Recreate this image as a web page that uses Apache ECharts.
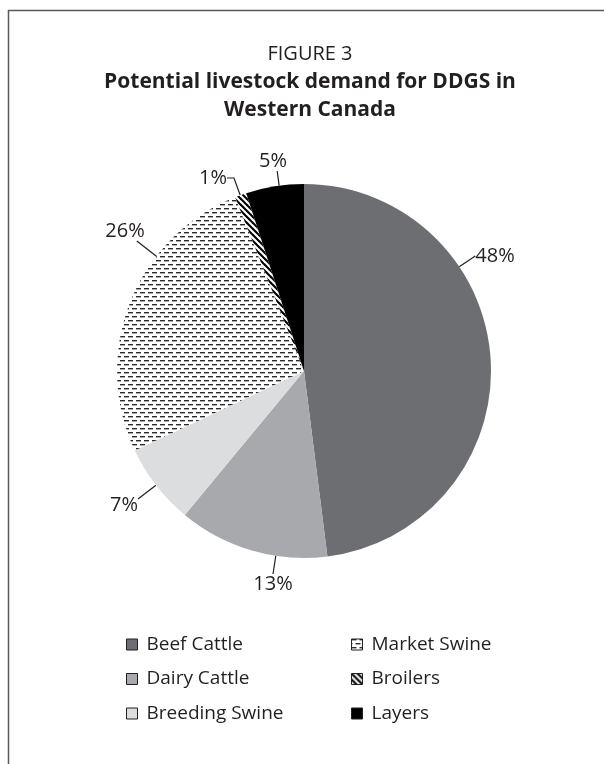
<!DOCTYPE html>
<html>
<head>
<meta charset="utf-8">
<script src="https://cdn.jsdelivr.net/npm/echarts@6/dist/echarts.min.js"></script>
<style>
html, body { margin: 0; padding: 0; background: #fff; }
#chart { width: 604px; height: 764px; }
</style>
</head>
<body>
<div id="chart"></div>
<script>
// data, in the order the slices run clockwise from 12 o'clock
const categories = ['Beef Cattle', 'Dairy Cattle', 'Breeding Swine', 'Market Swine', 'Broilers', 'Layers'];
const shares = [48, 13, 7, 26, 1, 5];
const legendLeft = ['Beef Cattle', 'Dairy Cattle', 'Breeding Swine'];
const legendRight = ['Market Swine', 'Broilers', 'Layers'];

const ink = '#231f20';
const font = '"Open Sans", "Noto Sans", sans-serif';
const pieCenter = [304, 371];
const pieRadius = 187;

// little tiles for the two hatched slices
function dashTile () {
  const c = document.createElement('canvas');
  c.width = 8; c.height = 8;
  const g = c.getContext('2d');
  g.fillStyle = '#fff';
  g.fillRect(0, 0, 8, 8);
  g.fillStyle = '#2b2b2b';
  g.fillRect(0, 0, 5, 1.4);
  g.fillRect(4, 4, 4, 1.4);
  g.fillRect(0, 4, 1, 1.4);
  return { image: c, repeat: 'repeat' };
}
function stripeTile () {
  const c = document.createElement('canvas');
  c.width = 6; c.height = 6;
  const g = c.getContext('2d');
  g.fillStyle = '#fff';
  g.fillRect(0, 0, 6, 6);
  g.strokeStyle = '#000';
  g.lineWidth = 2.1;
  [-6, 0, 6].forEach(o => {
    g.beginPath();
    g.moveTo(o - 1, -1);
    g.lineTo(o + 7, 7);
    g.stroke();
  });
  return { image: c, repeat: 'repeat' };
}

const fills = {
  'Beef Cattle': '#6d6e71',
  'Dairy Cattle': '#a7a9ac',
  'Breeding Swine': '#dcddde',
  'Market Swine': dashTile(),
  'Broilers': stripeTile(),
  'Layers': '#000'
};

// label placement as in the print: centre x, y, which side of the
// label box the leader leaves from (-1..1 of half width/height), elbow px
const labelSpots = {
  'Beef Cattle': [495, 256, -1, 0, 0],
  'Dairy Cattle': [273, 584, 0, -1, 0],
  'Breeding Swine': [124, 505, 1, -0.6, 0],
  'Market Swine': [125, 231, 0.6, 1, 0],
  'Broilers': [213, 178, 1, 0, 7],
  'Layers': [273, 161, 0.3, 1, 0]
};

function placeLabel (p) {
  const s = labelSpots[categories[p.dataIndex]];
  const w = p.labelRect.width;
  const h = p.labelRect.height;
  const start = [s[0] + s[2] * w / 2, s[1] + s[3] * h / 2];
  const elbow = [start[0] + Math.sign(s[2]) * s[4], start[1]];
  const dx = elbow[0] - pieCenter[0];
  const dy = elbow[1] - pieCenter[1];
  const d = Math.sqrt(dx * dx + dy * dy);
  const edge = [pieCenter[0] + dx / d * pieRadius, pieCenter[1] + dy / d * pieRadius];
  const pts = s[4] ? [edge, elbow, start] : [edge, start];
  return {
    x: s[0], y: s[1], align: 'center', verticalAlign: 'middle',
    labelLinePoints: pts
  };
}

const chart = echarts.init(document.getElementById('chart'));

const legendBase = {
  orient: 'vertical',
  top: 635,
  padding: 0,
  itemWidth: 11,
  itemHeight: 11,
  itemGap: 15.5,
  icon: 'rect',
  selectedMode: false,
  itemStyle: { borderColor: ink, borderWidth: 1 },
  textStyle: { fontSize: 19, color: ink, fontFamily: font, padding: [0, 0, 0, 4] }
};

chart.setOption({
  animation: false,
  graphic: [{
    type: 'rect',
    silent: true,
    z: -1,
    shape: { x: 8.5, y: 10.5, width: 700, height: 800 },
    style: { fill: 'none', stroke: '#58595b', lineWidth: 1.5 }
  }, {
    type: 'text',
    silent: true,
    x: 310,
    y: 54,
    style: {
      text: 'FIGURE 3', fill: ink, fontSize: 20, fontFamily: font,
      align: 'center', verticalAlign: 'middle'
    }
  }, {
    type: 'text',
    silent: true,
    x: 310,
    y: 68,
    style: {
      text: 'Potential livestock demand for DDGS in\nWestern Canada',
      fill: ink, fontSize: 21, fontWeight: 'bold', fontFamily: font,
      lineHeight: 28, align: 'center', verticalAlign: 'top'
    }
  }],
  legend: [
    Object.assign({}, legendBase, { left: 126, data: legendLeft }),
    Object.assign({}, legendBase, { left: 351, data: legendRight })
  ],
  series: [{
    type: 'pie',
    silent: true,
    center: pieCenter,
    radius: pieRadius,
    startAngle: 90,
    clockwise: true,
    avoidLabelOverlap: false,
    itemStyle: { borderWidth: 0 },
    label: {
      show: true,
      position: 'outside',
      formatter: '{c}%',
      color: ink,
      fontSize: 20,
      fontFamily: font
    },
    labelLine: {
      show: true,
      length: 10,
      length2: 6,
      lineStyle: { color: ink, width: 1.2 }
    },
    labelLayout: placeLabel,
    data: categories.map((name, i) => ({
      name: name,
      value: shares[i],
      itemStyle: { color: fills[name] }
    }))
  }]
});
</script>
</body>
</html>
